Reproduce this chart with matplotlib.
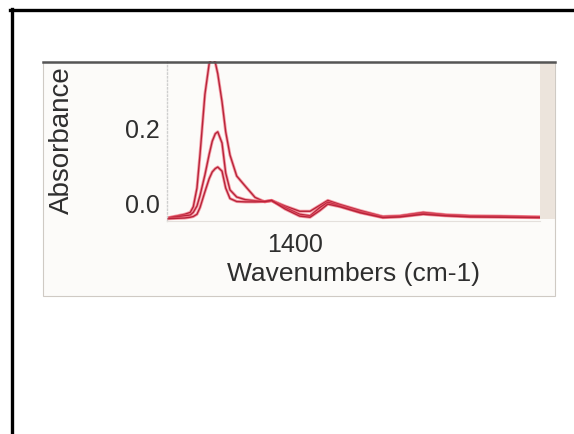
import matplotlib
matplotlib.use("Agg")
import matplotlib.pyplot as plt
from matplotlib.patches import Rectangle
from matplotlib.lines import Line2D

plt.rcParams['font.family'] = ['Liberation Sans', 'DejaVu Sans']

# wavenumbers (cm-1), shared by the three spectra
wavenumbers = [1610, 1581, 1572, 1567, 1561, 1556, 1548, 1541, 1536, 1531,
               1527, 1520, 1514, 1507, 1496, 1482, 1466, 1450, 1439, 1417,
               1393, 1376, 1360, 1347, 1327, 1294, 1257, 1229, 1191, 1155,
               1114, 1065, 1000]

absorb_high = [-0.040, -0.030, -0.025, -0.010, 0.040, 0.130, 0.290, 0.372, 0.390, 0.375,
               0.345, 0.270, 0.190, 0.128, 0.072, 0.045, 0.015, 0.003, 0.007, -0.008,
               -0.022, -0.022, -0.006, 0.007, -0.004, -0.020, -0.036, -0.034, -0.025, -0.031,
               -0.034, -0.035, -0.037]

absorb_mid = [-0.040, -0.034, -0.032, -0.025, -0.008, 0.020, 0.075, 0.130, 0.165, 0.185,
              0.190, 0.160, 0.080, 0.035, 0.016, 0.009, 0.006, 0.004, 0.006, -0.012,
              -0.030, -0.034, -0.012, 0.002, -0.008, -0.024, -0.038, -0.036, -0.028, -0.033,
              -0.036, -0.036, -0.038]

absorb_low = [-0.042, -0.040, -0.038, -0.036, -0.030, -0.012, 0.030, 0.065, 0.083, 0.092,
              0.096, 0.085, 0.040, 0.012, 0.004, 0.003, 0.003, 0.004, 0.007, -0.016,
              -0.035, -0.038, -0.020, -0.003, -0.010, -0.026, -0.039, -0.037, -0.030, -0.034,
              -0.037, -0.038, -0.039]

x_ticks = [1400]
y_ticks = [0.0, 0.2]
y_ticklabels = ['0.0', '0.2']

W, H = 574, 434
fig = plt.figure(figsize=(W / 100, H / 100), dpi=100)
fig.patch.set_facecolor('white')


def fx(px):
    return px / W


def fy(py):
    return 1 - py / H


# light panel behind the chart
fig.patches.append(Rectangle((fx(43), fy(296)), fx(555) - fx(43), fy(62) - fy(296),
                             transform=fig.transFigure, facecolor='#fcfbf9',
                             edgecolor='#cfcac4', lw=0.8, zorder=0))
fig.patches.append(Rectangle((fx(540), fy(219)), fx(555) - fx(540), fy(62) - fy(219),
                             transform=fig.transFigure, facecolor='#ece4dc',
                             edgecolor='none', zorder=0))
fig.lines.append(Line2D([fx(43), fx(555)], [fy(62), fy(62)], transform=fig.transFigure,
                        color='#555555', lw=1.8, zorder=10))

# black frame on top and left
fig.lines.append(Line2D([fx(10), fx(574)], [fy(10), fy(10)], transform=fig.transFigure,
                        color='black', lw=2.4))
fig.lines.append(Line2D([fx(11.5), fx(11.5)], [fy(9), fy(434)], transform=fig.transFigure,
                        color='black', lw=2.4))

ax = fig.add_axes([fx(167), fy(221), fx(540) - fx(167), fy(61) - fy(221)])
ax.set_facecolor('none')
ax.set_zorder(5)

for series in (absorb_high, absorb_mid, absorb_low):
    ax.plot(wavenumbers, series, color='#ee5a6c', lw=2.2, alpha=0.6)
    ax.plot(wavenumbers, series, color='#b8243a', lw=1.0)

ax.set_xlim(1610, 1000)
ax.set_ylim(-0.048, 0.379)

ax.set_xticks(x_ticks)
ax.set_yticks(y_ticks)
ax.set_yticklabels(y_ticklabels)
ax.tick_params(length=0, labelsize=18, labelcolor='#2e2e2e')
ax.tick_params(axis='y', pad=5)
ax.tick_params(axis='x', pad=9)

for side in ('top', 'right'):
    ax.spines[side].set_visible(False)
ax.spines['left'].set_color('#cfcfcf')
ax.spines['left'].set_linestyle(':')
ax.spines['left'].set_linewidth(1.0)
ax.spines['bottom'].set_color('#e4e0dc')
ax.spines['bottom'].set_linewidth(0.8)

ax.set_xlabel('Wavenumbers (cm-1)', fontsize=19, color='#2e2e2e', va='center')
ax.xaxis.set_label_coords(0.501, -0.331)
ax.set_ylabel('Absorbance', fontsize=20, color='#2e2e2e', va='center')
ax.yaxis.set_label_coords(-0.2815, 0.506)

fig.savefig('out.png', dpi=100)
